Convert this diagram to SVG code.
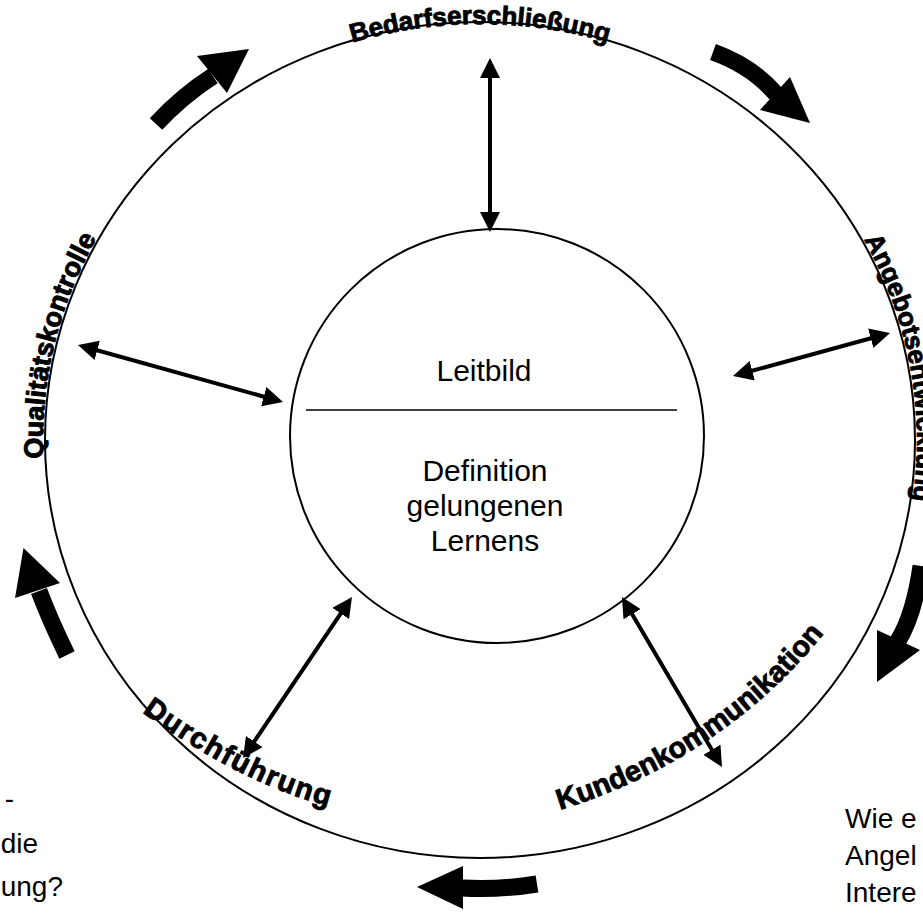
<svg xmlns="http://www.w3.org/2000/svg" width="923" height="913" viewBox="0 0 923 913">
<defs>
<style>
.ring{fill:none;stroke:#000;stroke-width:2}
.dbl{fill:none;stroke:#000;stroke-width:4;marker-start:url(#hd);marker-end:url(#hd)}
.shaft{fill:none;stroke:#000;stroke-width:17}
.head{fill:#000}
.lab{font-family:"Liberation Sans",Arial,sans-serif;font-weight:bold;fill:#000;stroke:#000;stroke-width:0.9}
.txt{font-family:"Liberation Sans",Arial,sans-serif;fill:#000;font-size:30px}
.note{font-family:"Liberation Sans",Arial,sans-serif;fill:#000;font-size:28px}
</style>
<marker id="hd" viewBox="0 0 20 20" refX="4" refY="10" markerWidth="20" markerHeight="20" markerUnits="userSpaceOnUse" orient="auto-start-reverse">
<path d="M0,0 L20,10 L0,20 z" fill="#000"/>
</marker>
<path id="pTop" d="M201.7,121.3 A433,416 0 0 1 758.3,121.3"/>
<path id="pLeft" d="M69.4,583.6 A437,420 0 0 1 176.4,137.9"/>
<path id="pRight" d="M863.9,239.6 A437,420 0 0 1 890.6,583.6"/>
<path id="pDurch" d="M142,712 Q250,790 345,810"/>
<path id="pKunden" d="M560,810 Q720,760 822,636"/>
</defs>
<rect width="923" height="913" fill="#fff"/>
<g id="outer-ring"><ellipse class="ring" cx="480" cy="440" rx="435" ry="418"/></g>
<g id="center">
<circle class="ring" cx="497" cy="436" r="207"/>
<line x1="306" y1="410" x2="677" y2="410" stroke="#000" stroke-width="1.5"/>
<text class="txt" x="484" y="381" text-anchor="middle">Leitbild</text>
<text class="txt" x="485" y="481" text-anchor="middle">Definition</text>
<text class="txt" x="485" y="516" text-anchor="middle">gelungenen</text>
<text class="txt" x="485" y="551" text-anchor="middle">Lernens</text>
</g>
<g id="label-bedarf"><text class="lab" font-size="26"><textPath href="#pTop" startOffset="50%" text-anchor="middle">Bedarfserschließung</textPath></text></g>
<g id="label-angebot"><text class="lab" font-size="26"><textPath href="#pRight" startOffset="0">Angebotsentwicklung</textPath></text></g>
<g id="label-qualitaet"><text class="lab" font-size="27"><textPath href="#pLeft" startOffset="50%" text-anchor="middle">Qualitätskontrolle</textPath></text></g>
<g id="label-durch"><text class="lab" font-size="29" letter-spacing="1.5"><textPath href="#pDurch" startOffset="0">Durchführung</textPath></text></g>
<g id="label-kunden"><text class="lab" font-size="29"><textPath href="#pKunden" startOffset="0">Kundenkommunikation</textPath></text></g>
<g id="connectors">
<line class="dbl" x1="490" y1="74" x2="490" y2="216"/>
<line class="dbl" x1="93.4" y1="349.3" x2="267.6" y2="397.7"/>
<line class="dbl" x1="748.4" y1="371.8" x2="874.6" y2="337.2"/>
<line class="dbl" x1="343" y1="610.2" x2="252" y2="744.8"/>
<line class="dbl" x1="630.1" y1="610.8" x2="713.9" y2="753.2"/>
</g>
<g id="cycle-arrows">
<path class="shaft" d="M156,124 Q182,96 213,76"/>
<polygon class="head" points="197,56 227,93 249,49"/>
<path class="shaft" d="M713,52 Q752,66 776,94"/>
<polygon class="head" points="760,110 790,77 810,123"/>
<path class="shaft" d="M921,566 Q914,615 898,641"/>
<polygon class="head" points="877,630 920,650 877,682"/>
<path class="shaft" d="M537,884 Q500,890 462,888"/>
<polygon class="head" points="463,866 463,909 417,887"/>
<path class="shaft" d="M67,655 Q50,620 39,591"/>
<polygon class="head" points="15,598 60,583 23.5,548"/>
</g>
<g id="notes">
<text class="note" x="14" y="808" text-anchor="end">-</text>
<text class="note" x="38" y="853" text-anchor="end">die</text>
<text class="note" x="63" y="896" text-anchor="end">ung?</text>
<text class="note" x="845" y="828">Wie e</text>
<text class="note" x="845" y="865">Angel</text>
<text class="note" x="845" y="902">Intere</text>
</g>
</svg>
